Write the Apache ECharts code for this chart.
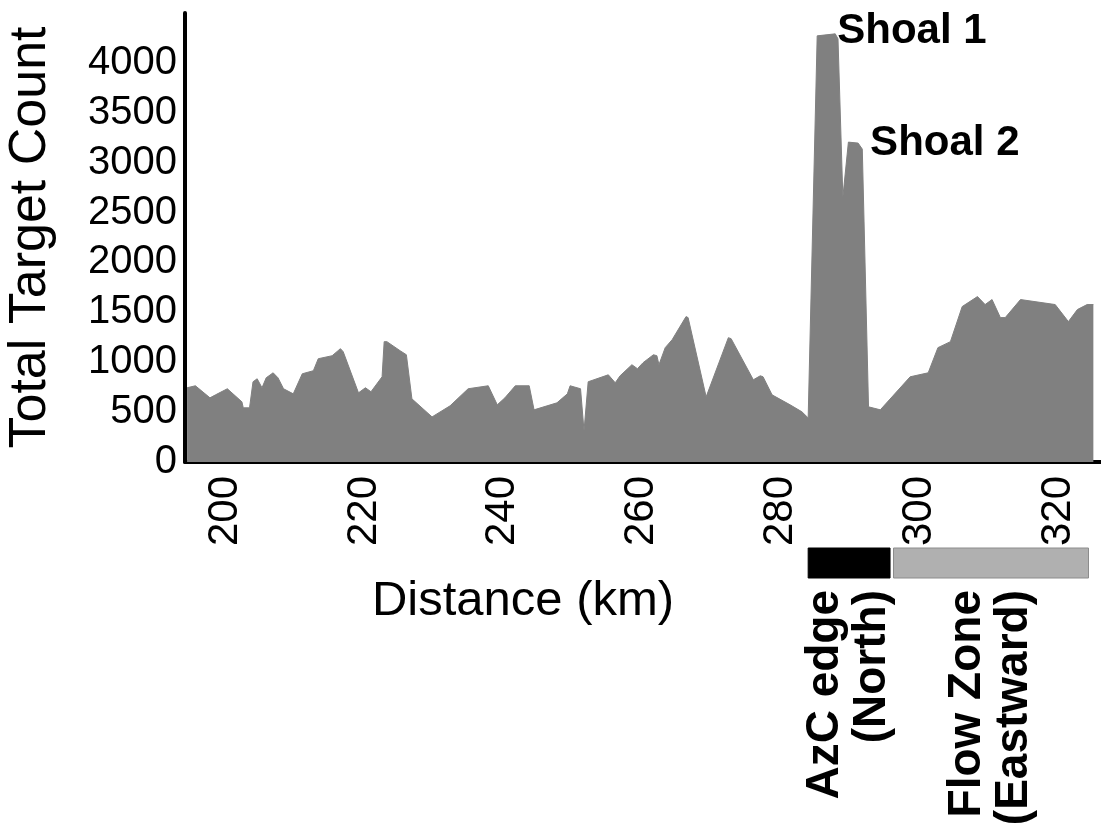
<!DOCTYPE html>
<html>
<head>
<meta charset="utf-8">
<script src="https://cdn.jsdelivr.net/npm/echarts@6/dist/echarts.min.js"></script>
<style>
  html, body { margin: 0; padding: 0; background: #fff; }
  #chart { width: 1101px; height: 828px; }
</style>
</head>
<body>
<div id="chart"></div>
<script>
// ---- data ----
const distanceKm = [194.5, 195.7, 197.8, 198.6, 200.3, 202.4, 202.6, 203.5, 204.0, 204.6,
  205.3, 205.9, 206.9, 207.6, 208.4, 209.8, 211.1, 212.7, 213.4, 215.4,
  216.6, 217.0, 219.2, 220.2, 221.0, 222.6, 222.9, 223.3, 225.2, 226.1,
  226.9, 229.8, 232.4, 235.0, 237.9, 239.2, 240.3, 241.8, 243.8, 244.5,
  247.8, 249.3, 249.7, 251.2, 251.7, 252.3, 255.2, 256.2, 256.9, 258.6,
  259.4, 260.2, 261.7, 262.2, 262.5, 263.4, 264.4, 266.4, 266.7, 269.3,
  272.5, 272.9, 276.1, 277.1, 277.5, 278.8, 281.4, 283.1, 284.0, 285.3,
  287.9, 288.3, 289.0, 289.8, 291.2, 291.8, 292.7, 294.4, 298.7, 301.3,
  302.7, 304.5, 306.2, 308.4, 309.5, 310.5, 311.7, 312.4, 314.6, 319.6,
  321.5, 322.8, 324.2, 325.1];
const targetCount = [744, 764, 643, 673, 734, 603, 543, 543, 804, 834,
  744, 844, 894, 844, 734, 683, 884, 915, 1035, 1065,
  1136, 1105, 693, 744, 704, 854, 1206, 1206, 1115, 1075,
  633, 452, 563, 734, 764, 573, 643, 764, 764, 523,
  593, 683, 764, 734, 312, 804, 874, 794, 864, 975,
  935, 995, 1075, 1065, 975, 1146, 1226, 1457, 1447, 653,
  1246, 1236, 824, 864, 854, 673, 573, 503, 442, 4271,
  4291, 4241, 2653, 3206, 3196, 3136, 553, 523, 854, 894,
  1146, 1206, 1558, 1658, 1578, 1628, 1447, 1447, 1628, 1578,
  1407, 1528, 1578, 1578];
const xTickValues = [200, 220, 240, 260, 280, 300, 320];
const shoalNames = ['Shoal 1', 'Shoal 2'];
const shoalKm = [287.9, 291.2];
const shoalCount = [4291, 3196];
const zoneNames = ['AzC edge\n(North)', 'Flow Zone\n(Eastward)'];
const zoneStartKm = [284.0, 296.3];
const zoneEndKm = [295.8, 324.4];

// ---- styles ----
const zoneStyles = [
  { color: '#000000', borderColor: '#000000', borderWidth: 1 },
  { color: '#b0b0b0', borderColor: '#8c8c8c', borderWidth: 1 }
];
const shoalLabelStyles = [
  { distance: 2, offset: [0, -2] },
  { distance: 12, offset: [0, 0] }
];
const X_MIN = 194.2, X_MAX = 326.2;

const seriesData = distanceKm.map((d, i) => [d, targetCount[i]]);
const zoneCenters = zoneStartKm.map((s, i) => (s + zoneEndKm[i]) / 2);

const chart = echarts.init(document.getElementById('chart'), null, { renderer: 'canvas' });
chart.setOption({
  backgroundColor: '#ffffff',
  animation: false,
  textStyle: { fontFamily: 'Liberation Sans, Arial, sans-serif' },
  grid: [
    { left: 185, right: 0, top: 13, bottom: 366, containLabel: false, outerBoundsMode: 'none' },
    { left: 185, right: 0, top: 548, bottom: 250, containLabel: false, outerBoundsMode: 'none' }
  ],
  xAxis: [
    {
      type: 'value', gridIndex: 0, min: X_MIN, max: X_MAX,
      name: 'Distance (km)', nameLocation: 'middle', nameGap: 115,
      nameTextStyle: { fontSize: 49, color: '#000', padding: [0, 240, 0, 0] },
      axisLine: { show: true, onZero: false, lineStyle: { color: '#000', width: 4 } },
      axisTick: { show: false },
      splitLine: { show: false },
      axisLabel: { customValues: xTickValues, rotate: 90, fontSize: 42, color: '#000', margin: 14, padding: [10, 0, 0, 0] }
    },
    {
      type: 'value', gridIndex: 1, min: X_MIN, max: X_MAX,
      axisLine: { show: false }, axisTick: { show: false }, splitLine: { show: false },
      axisLabel: {
        customValues: zoneCenters, rotate: 90, fontSize: 46, fontWeight: 'bold',
        color: '#000', margin: 12, lineHeight: 47,
        formatter: function (v) {
          let best = 0;
          zoneCenters.forEach((c, i) => { if (Math.abs(c - v) < Math.abs(zoneCenters[best] - v)) best = i; });
          return zoneNames[best];
        }
      }
    }
  ],
  yAxis: [
    {
      type: 'value', gridIndex: 0, min: 0, max: 4500, interval: 500,
      name: 'Total Target Count', nameLocation: 'middle', nameGap: 128, nameRotate: 90,
      nameTextStyle: { fontSize: 52, color: '#000' },
      axisLine: { show: true, lineStyle: { color: '#000', width: 4 } },
      axisTick: { show: false },
      splitLine: { show: false },
      axisLabel: {
        fontSize: 40, color: '#000', margin: 8,
        formatter: v => (v === 4500 ? '' : String(v))
      }
    },
    {
      type: 'value', gridIndex: 1, min: 0, max: 1, show: false
    }
  ],
  series: [
    {
      type: 'line', xAxisIndex: 0, yAxisIndex: 0,
      data: seriesData,
      showSymbol: false, symbol: 'none',
      lineStyle: { color: '#808080', width: 1 },
      areaStyle: { color: '#808080', opacity: 1 },
      markPoint: {
        symbol: 'circle', symbolSize: 0, silent: true,
        data: shoalNames.map((n, i) => ({
          coord: [shoalKm[i], shoalCount[i]],
          label: Object.assign({
            show: true, position: 'right', formatter: n,
            fontFamily: 'Liberation Sans, Arial, sans-serif',
            fontWeight: 'bold', fontSize: 42, color: '#000'
          }, shoalLabelStyles[i])
        }))
      }
    },
    {
      type: 'line', xAxisIndex: 1, yAxisIndex: 1,
      data: [], showSymbol: false, silent: true,
      markArea: {
        silent: true,
        data: zoneNames.map((n, i) => [
          { xAxis: zoneStartKm[i], itemStyle: zoneStyles[i] },
          { xAxis: zoneEndKm[i] }
        ]),
        label: { show: false }
      }
    }
  ]
});
</script>
</body>
</html>
